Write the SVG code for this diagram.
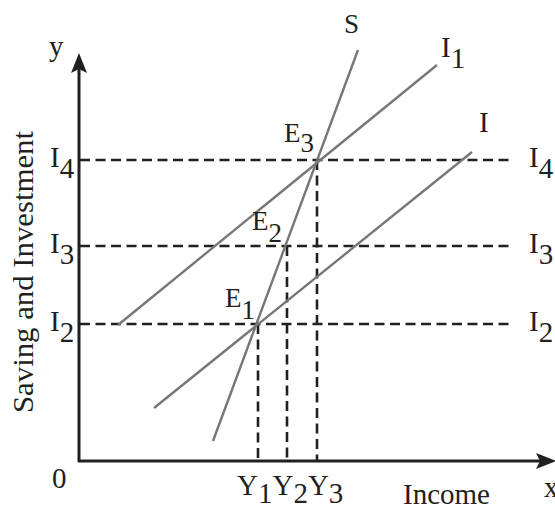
<svg xmlns="http://www.w3.org/2000/svg" width="555" height="508" viewBox="0 0 555 508">
<style>
.axis{stroke:#231f20;stroke-width:3;fill:none}
.dash{stroke:#231f20;stroke-width:2.6;stroke-dasharray:10 5.5;fill:none}
.curve{stroke:#777;stroke-width:2.4;fill:none}
text{font-family:"Liberation Serif","Times New Roman",serif;fill:#231f20}
.lab{font-size:29px}
.e{font-size:27px}
</style>
<rect width="555" height="508" fill="#fff"/>
<g id="connectors">
  <g id="axes">
    <line class="axis" x1="79" y1="66" x2="79" y2="462"/>
    <line class="axis" x1="78" y1="461" x2="543" y2="461"/>
    <path d="M79 53 L87 73 L79 69 L71 73 Z" fill="#231f20"/>
    <path d="M556 461 L536 453 L540 461 L536 469 Z" fill="#231f20"/>
  </g>
  <g id="guides">
    <line class="dash" x1="80" y1="160" x2="513" y2="160"/>
    <line class="dash" x1="80" y1="246" x2="513" y2="246"/>
    <line class="dash" x1="80" y1="324" x2="513" y2="324"/>
    <line class="dash" x1="258" y1="324" x2="258" y2="460"/>
    <line class="dash" x1="287" y1="246" x2="287" y2="460"/>
    <line class="dash" x1="317" y1="160" x2="317" y2="460"/>
  </g>
  <g id="lines">
    <line id="S" class="curve" x1="213" y1="441" x2="358" y2="50"/>
    <line id="I1line" class="curve" x1="118" y1="325" x2="437" y2="65"/>
    <line id="Iline" class="curve" x1="154" y1="408" x2="472" y2="152"/>
  </g>
</g>
<g id="labels">
  <text class="lab" x="49" y="56">y</text>
  <text class="lab" x="544" y="497">x</text>
  <text class="lab" x="52" y="488">0</text>
  <text class="e" x="344" y="33">S</text>
  <text class="lab" x="441" y="57">I<tspan dy="11">1</tspan></text>
  <text class="lab" x="479" y="132">I</text>
  <text class="e" x="284" y="142">E<tspan dy="10">3</tspan></text>
  <text class="e" x="252" y="230">E<tspan dy="12">2</tspan></text>
  <text class="e" x="225" y="307">E<tspan dy="12">1</tspan></text>
  <text class="lab" x="50" y="167">I<tspan dy="11">4</tspan></text>
  <text class="lab" x="50" y="253">I<tspan dy="11">3</tspan></text>
  <text class="lab" x="50" y="331">I<tspan dy="11">2</tspan></text>
  <text class="lab" x="529" y="167">I<tspan dy="11">4</tspan></text>
  <text class="lab" x="529" y="253">I<tspan dy="11">3</tspan></text>
  <text class="lab" x="529" y="331">I<tspan dy="11">2</tspan></text>
  <text class="lab" x="237" y="495">Y<tspan dy="8">1</tspan><tspan dy="-8">Y</tspan><tspan dy="8">2</tspan><tspan dy="-8">Y</tspan><tspan dy="8">3</tspan></text>
  <text class="lab" x="403" y="504">Income</text>
  <text class="lab" font-size="30" transform="translate(33 413) rotate(-90)" textLength="282" lengthAdjust="spacingAndGlyphs">Saving and Investment</text>
</g>
</svg>
